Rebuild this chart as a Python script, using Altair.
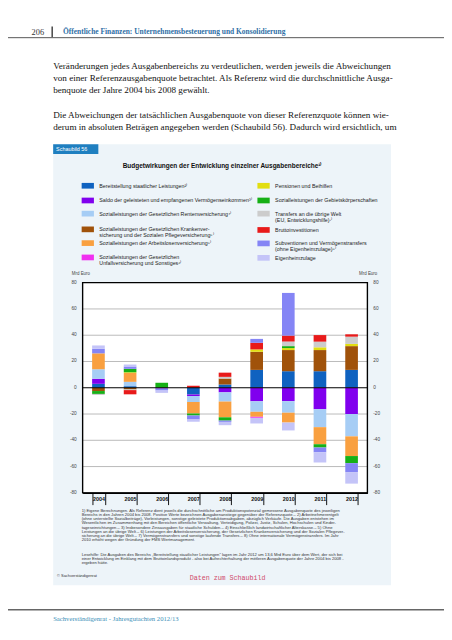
import altair as alt
import pandas as pd

# ---------------- data ----------------
years = ["2004", "2005", "2006", "2007", "2008", "2009", "2010", "2011", "2012"]

categories = [
    "Bereitstellung", "Saldo", "Rente", "Kranken", "Arbeitslosen", "Unfall",
    "Pensionen", "Gebiet", "Transfers", "Brutto", "Subventionen", "Eigenheim",
]
legend_labels = [
    "Bereitstellung staatlicher Leistungen²⁾",
    "Saldo der geleisteten und empfangenen Vermögenseinkommen³⁾",
    "Sozialleistungen der Gesetzlichen Rentenversicherung⁴⁾",
    "Sozialleistungen der Gesetzlichen Krankenver-\nsicherung und der Sozialen Pflegeversicherung⁵⁾",
    "Sozialleistungen der Arbeitslosenversicherung⁵⁾",
    "Sozialleistungen der Gesetzlichen\nUnfallversicherung und Sonstiges⁶⁾",
    "Pensionen und Beihilfen",
    "Sozialleistungen der Gebietskörperschaften",
    "Transfers an die übrige Welt\n(EU, Entwicklungshilfe)⁷⁾",
    "Bruttoinvestitionen",
    "Subventionen und Vermögenstransfers\n(ohne Eigenheimzulage)⁸⁾",
    "Eigenheimzulage",
]
colors = [
    "#0f62c0", "#8000ee", "#a6cdf5", "#a0520a", "#f9a040", "#f030f0",
    "#e2de10", "#16b016", "#cccccc", "#e81a1a", "#8585f5", "#c4c4f8",
]

# Mrd Euro, years 2004..2012
bereitstellung = [3.0, 1.2, 0.0, -5.2, 2.5, 13.6, 12.6, 12.6, 13.6]
saldo = [3.8, 0.0, -0.6, -1.0, -3.5, -10.3, -10.2, -16.3, -20.0]
rente = [7.3, 3.3, 0.0, -4.6, -7.0, -8.0, -8.8, -13.7, -17.0]
kranken = [-2.5, -1.3, 0.0, 0.0, 4.5, 13.8, 16.1, 16.1, 18.1]
arbeitslosen = [12.1, 6.8, 0.0, -8.8, -12.0, -3.8, -7.5, -13.0, -15.0]
unfall = [0.0, 0.0, 0.0, 0.0, 0.0, -0.8, 0.0, 0.0, 0.0]
pensionen = [0.0, 0.5, 0.0, 0.0, 0.0, 1.8, 1.5, 2.1, 1.7]
gebiet = [-2.2, 2.6, 3.8, -1.5, -2.5, 0.0, 1.5, -2.5, -5.4]
transfers = [-0.8, -0.5, 0.0, 0.0, 1.3, 0.0, 3.5, 4.3, 5.5]
brutto = [0.0, -3.2, 0.0, 1.5, 3.2, 5.0, 4.5, 5.0, 1.8]
subventionen = [3.5, 1.8, -1.5, -3.0, -1.0, 3.0, 32.5, -3.7, -6.8]
eigenheim = [2.5, 1.5, -1.8, -1.7, -2.5, -4.3, -6.0, -7.7, -8.8]

series = [bereitstellung, saldo, rente, kranken, arbeitslosen, unfall,
          pensionen, gebiet, transfers, brutto, subventionen, eigenheim]

y_ticks = [80, 60, 40, 20, 0, -20, -40, -60, -80]

# ---------------- layout helpers ----------------
W, H = 290, 214          # plot area
OX, OY = 84, 282         # plot origin on the page
SANS = "Liberation Sans"
SERIF = "Liberation Serif"

rows = []
for i, (cat, vals) in enumerate(zip(categories, series)):
    for y, v in zip(years, vals):
        if v != 0:
            rows.append({"year": y, "cat": cat, "idx": i, "value": v})
df = pd.DataFrame(rows)
one = pd.DataFrame({"k": [0]})
yscale = alt.Scale(domain=[-80, 80], nice=False, zero=False)


def px(x):
    return x - OX


def py(y):
    return y - OY


def txt(s, x, y, size, font=SANS, color="#222", align="left", baseline="middle", **kw):
    return alt.Chart(one).mark_text(
        text=s, fontSize=size, font=font, color=color, align=align, baseline=baseline, **kw
    ).encode(x=alt.value(px(x)), y=alt.value(py(y)))


def box(x1, y1, x2, y2, **kw):
    return alt.Chart(one).mark_rect(**kw).encode(
        x=alt.value(px(x1)), x2=alt.value(px(x2)), y=alt.value(py(y1)), y2=alt.value(py(y2))
    )


def rule(x1, y1, x2, y2, color, width):
    return alt.Chart(one).mark_rule(color=color, strokeWidth=width).encode(
        x=alt.value(px(x1)), x2=alt.value(px(x2)), y=alt.value(py(y1)), y2=alt.value(py(y2))
    )


layers = []

# page header
layers.append(txt("206", 32, 27, 8.5, font=SERIF, color="#333"))
layers.append(rule(53, 21, 53, 32, "#444", 1.5))
layers.append(txt("Öffentliche Finanzen: Unternehmensbesteuerung und Konsolidierung",
                  64, 27, 7.6, font=SERIF, color="#2f6fa6", fontWeight="bold"))
layers.append(rule(0, 32.5, 452, 32.5, "#555", 1))

para = [
    ("Veränderungen jedes Ausgabenbereichs zu verdeutlichen, werden jeweils die Abweichungen", 61),
    ("von einer Referenzausgabenquote betrachtet. Als Referenz wird die durchschnittliche Ausga-", 73.5),
    ("benquote der Jahre 2004 bis 2008 gewählt.", 86),
    ("Die Abweichungen der tatsächlichen Ausgabenquote von dieser Referenzquote können wie-", 111),
    ("derum in absoluten Beträgen angegeben werden (Schaubild 56). Dadurch wird ersichtlich, um", 124),
]
for s, yy in para:
    layers.append(txt(s, 54, yy, 9.3, font=SERIF, color="#111"))

# chart box
layers.append(box(54, 141, 398, 590, color="#edf4f9"))
layers.append(box(54, 141, 100, 151, color="#1f7fc0"))
layers.append(txt("Schaubild 56", 57, 146.3, 5.5, color="#ffffff"))
layers.append(txt("Budgetwirkungen der Entwicklung einzelner Ausgabenbereiche¹⁾",
                  226, 163, 6.6, align="center", fontWeight="bold", color="#111"))

# legend
leg_y_left = [183.3, 198.3, 211.7, 227.7, 241.7, 256.3]
leg_y_right = [183.3, 198.3, 211.7, 228.3, 242.0, 256.7]
for i, (lab, col) in enumerate(zip(legend_labels, colors)):
    if i < 6:
        sx, yy = 83, leg_y_left[i]
    else:
        sx, yy = 262, leg_y_right[i - 6]
    layers.append(box(sx, yy - 2.9, sx + 12.5, yy + 2.9, color=col))
    layers.append(txt(lab, sx + 18, yy, 5.4, color="#222", lineBreak="\n", lineHeight=6))

# plot area
layers.append(box(OX, OY, OX + W, OY + H, color="#ffffff"))

grid_df = pd.DataFrame({"v": [t for t in y_ticks if t not in (0, 80, -80)]})
layers.append(alt.Chart(grid_df).mark_rule(color="#a8a8a8", strokeWidth=0.8).encode(
    y=alt.Y("v:Q", scale=yscale, axis=None), x=alt.value(0), x2=alt.value(W)))

bars = alt.Chart(df).mark_bar().encode(
    x=alt.X("year:N", sort=years,
            scale=alt.Scale(paddingInner=0.6, paddingOuter=0.3),
            axis=alt.Axis(title=None, labelAngle=0, labelFont=SANS, labelFontWeight="bold",
                          labelFontSize=5.5, labelColor="#111", tickBand="extent",
                          tickSize=12, tickColor="#111", tickWidth=1, domainColor="#000",
                          domainWidth=1.5, labelPadding=-8, labelBaseline="top", zindex=1)),
    y=alt.Y("value:Q", stack="zero", scale=yscale, axis=None),
    color=alt.Color("cat:N", scale=alt.Scale(domain=categories, range=colors), legend=None),
    order=alt.Order("idx:Q", sort="ascending"),
)
layers.append(bars)

layers.append(alt.Chart(pd.DataFrame({"v": [0]})).mark_rule(color="#000", strokeWidth=1.2).encode(
    y=alt.Y("v:Q", scale=yscale, axis=None), x=alt.value(0), x2=alt.value(W)))
layers.append(alt.Chart(one).mark_rect(fillOpacity=0, stroke="#000", strokeWidth=1.4).encode(
    x=alt.value(0), x2=alt.value(W), y=alt.value(0), y2=alt.value(H)))

tick_df = pd.DataFrame({"v": y_ticks, "t": [str(t) for t in y_ticks]})
layers.append(alt.Chart(tick_df).mark_text(align="right", baseline="middle", fontSize=4.8,
                                           font=SANS, color="#444").encode(
    y=alt.Y("v:Q", scale=yscale, axis=None), x=alt.value(-6), text="t:N"))
layers.append(alt.Chart(tick_df).mark_text(align="left", baseline="middle", fontSize=4.8,
                                           font=SANS, color="#444").encode(
    y=alt.Y("v:Q", scale=yscale, axis=None), x=alt.value(W + 6), text="t:N"))
layers.append(txt("Mrd Euro", 73, 273, 4.5, color="#444"))
layers.append(txt("Mrd Euro", 384, 273, 4.5, color="#444", align="right"))

# footnotes
foot = (
    "1) Eigene Berechnungen. Als Referenz dient jeweils die durchschnittliche am Produktionspotenzial gemessene Ausgabenquote des jeweiligen\n"
    "Bereichs in den Jahren 2004 bis 2008. Positive Werte bezeichnen Ausgabenanstiege gegenüber der Referenzquote.– 2) Arbeitnehmerentgelt\n"
    "(ohne unterstellte Sozialbeiträge), Vorleistungen, sonstige geleistete Produktionsabgaben, abzüglich Verkäufe. Die Ausgaben entstehen im\n"
    "Wesentlichen im Zusammenhang mit den Bereichen öffentliche Verwaltung, Verteidigung, Polizei, Justiz, Schulen, Hochschulen und Kinder-\n"
    "tageseinrichtungen.– 3) Insbesondere Zinsausgaben für staatliche Schulden.– 4) Einschließlich landwirtschaftlicher Alterskasse.– 5) Ohne\n"
    "Leistungen an die übrige Welt.– 6) Leistungen der Arbeitslosenversicherung, der Gesetzlichen Krankenversicherung und der Sozialen Pflegever-\n"
    "sicherung an die übrige Welt.– 7) Vermögenstransfers und sonstige laufende Transfers.– 8) Ohne internationale Vermögenstransfers. Im Jahr\n"
    "2010 erhöht wegen der Gründung der FMS Wertmanagement."
)
layers.append(txt(foot, 83, 512.2, 4.2, color="#333", baseline="top", lineBreak="\n", lineHeight=4.3))
lese = (
    "Lesehilfe: Die Ausgaben des Bereichs „Bereitstellung staatlicher Leistungen“ lagen im Jahr 2012 um 13,6 Mrd Euro über dem Wert, der sich bei\n"
    "einer Entwicklung im Einklang mit dem Bruttoinlandsprodukt - also bei Aufrechterhaltung der mittleren Ausgabenquote der Jahre 2004 bis 2008 -\n"
    "ergeben hätte."
)
layers.append(txt(lese, 83, 557, 4.2, color="#333", baseline="top", lineBreak="\n", lineHeight=4.35))
layers.append(txt("© Sachverständigenrat", 58, 581, 4.0, color="#333"))
layers.append(txt("Daten zum Schaubild", 193, 583, 6.8, font="Liberation Mono", color="#d04a6a"))

# page footer
layers.append(rule(0, 615, 452, 615, "#666", 1.5))
layers.append(txt("Sachverständigenrat - Jahresgutachten 2012/13", 54, 625, 6.8, font=SERIF, color="#3b8fb8"))

chart = alt.layer(*layers).properties(
    width=W, height=H,
    autosize=alt.AutoSizeParams(type="none"),
    padding={"left": OX - 8, "top": OY - 8, "right": 444 - (OX - 8) - W, "bottom": 624 - (OY - 8) - H},
    background="#ffffff",
).configure_view(stroke=None)

chart.save("out.html", embed_options={"renderer": "svg", "actions": False})
